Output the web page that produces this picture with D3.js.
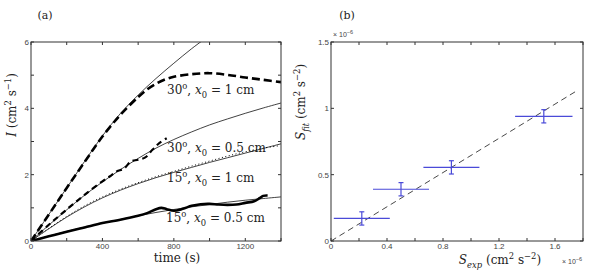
<!DOCTYPE html>
<html>
<head>
<meta charset="utf-8">
<script src="https://cdn.jsdelivr.net/npm/d3@7"></script>
<style>
  body { margin: 0; background: #fff; }
  svg { display: block; }
</style>
</head>
<body>
<div id="chart"></div>
<script>
// ---- panel (a) : I(t) ----
const timeTicks = [0, 400, 800, 1200];
const iTicks = [0, 2, 4, 6];

const fit30x1 = [[0,0],[100,0.8],[200,1.6],[300,2.4],[400,3.17],[500,3.84],[600,4.4],[700,4.9],[800,5.36],[900,5.8],[1000,6.2]];
const data30x1 = [[0,0],[100,0.8],[200,1.6],[300,2.38],[400,3.15],[500,3.8],[600,4.34],[650,4.57],[700,4.74],[750,4.87],[800,4.95],[900,5.03],[1000,5.06],[1100,5.01],[1200,4.93],[1300,4.86],[1400,4.79]];

const fit30x05 = [[0,0],[100,0.48],[200,0.94],[300,1.38],[400,1.78],[500,2.15],[600,2.49],[700,2.8],[800,3.06],[900,3.29],[1000,3.5],[1100,3.68],[1200,3.85],[1300,4.01],[1400,4.16]];
const data30x05 = [[0,0],[100,0.49],[200,0.95],[300,1.39],[400,1.8],[450,1.98],[480,2.1],[520,2.18],[560,2.4],[600,2.45],[640,2.52],[680,2.75],[720,2.96],[760,3.1]];

const fit15x1 = [[0,0],[100,0.37],[200,0.72],[300,1.03],[400,1.3],[500,1.53],[600,1.73],[700,1.91],[800,2.07],[900,2.22],[1000,2.37],[1100,2.51],[1200,2.65],[1300,2.79],[1400,2.93]];
const data15x1 = [[0,0],[100,0.38],[200,0.74],[300,1.06],[400,1.33],[500,1.56],[600,1.76],[700,1.94],[800,2.1],[900,2.26],[1000,2.41],[1100,2.56],[1200,2.69],[1300,2.8],[1390,2.87]];

const fit15x05 = [[0,0],[100,0.15],[200,0.29],[300,0.42],[400,0.54],[500,0.65],[600,0.76],[700,0.86],[800,0.95],[900,1.03],[1000,1.1],[1100,1.17],[1200,1.23],[1300,1.28],[1400,1.33]];
const data15x05 = [[0,0],[100,0.14],[200,0.28],[300,0.41],[400,0.54],[500,0.64],[600,0.76],[650,0.84],[700,0.96],[730,1.0],[760,0.96],[800,0.91],[850,0.97],[900,1.06],[950,1.11],[1000,1.12],[1050,1.1],[1100,1.09],[1150,1.1],[1200,1.15],[1250,1.2],[1280,1.29],[1300,1.36],[1325,1.37]];

// ---- panel (b) : S_fit vs S_exp (x 1e-6) ----
const sExpTicks = [0, 0.4, 0.8, 1.2, 1.6];
const sFitTicks = [0, 0.5, 1, 1.5];
const sExp = [0.22, 0.5, 0.86, 1.52];
const sExpErr = [0.2, 0.2, 0.2, 0.205];
const sFit = [0.17, 0.39, 0.555, 0.94];
const sFitErr = [0.05, 0.05, 0.05, 0.05];
const sLine = [[0, 0], [1.76, 1.135]];

const W = 591, H = 270;
const SERIF = "'DejaVu Serif', 'Liberation Serif', serif";
const SANS = "'Liberation Sans', 'DejaVu Sans', sans-serif";
const svg = d3.select("#chart").append("svg").attr("width", W).attr("height", H);

// rich text helper : segments with italic / sub / sup
function richText(g, x, y, segs, size, opts = {}) {
    const t = g.append("text").attr("x", x).attr("y", y)
        .attr("font-family", SERIF).attr("fill", "#222")
        .attr("font-size", size)
        .attr("text-anchor", opts.anchor || "start");
    if (opts.rotate) t.attr("transform", `rotate(-90,${x},${y})`);
    let shift = 0;
    segs.forEach(s => {
        const target = s.sub ? size * 0.3 : s.sup ? -size * 0.4 : 0;
        const ts = t.append("tspan").text(s.t).attr("dy", target - shift);
        shift = target;
        if (s.it) ts.attr("font-style", "italic");
        if (s.sub || s.sup) ts.attr("font-size", size * 0.7);
    });
    return t;
}

function drawFrame(g, x, y, xMinor, yMinor, xLab, yLab, fmtX, fmtY) {
    const [x0, x1] = x.range(), [y0, y1] = y.range();
    g.append("rect").attr("x", x0).attr("y", y1).attr("width", x1 - x0).attr("height", y0 - y1)
        .attr("fill", "none").attr("stroke", "#333").attr("stroke-width", 1);
    const tk = 3;
    xMinor.forEach(v => {
        const px = x(v);
        g.append("line").attr("x1", px).attr("x2", px).attr("y1", y0).attr("y2", y0 - tk).attr("stroke", "#333");
        g.append("line").attr("x1", px).attr("x2", px).attr("y1", y1).attr("y2", y1 + tk).attr("stroke", "#333");
    });
    yMinor.forEach(v => {
        const py = y(v);
        g.append("line").attr("x1", x0).attr("x2", x0 + tk).attr("y1", py).attr("y2", py).attr("stroke", "#333");
        g.append("line").attr("x1", x1).attr("x2", x1 - tk).attr("y1", py).attr("y2", py).attr("stroke", "#333");
    });
    xLab.forEach(v => {
        g.append("text").attr("font-family", SANS).attr("font-size", 8).attr("fill", "#444")
            .attr("x", x(v)).attr("y", y0 + 8)
            .attr("text-anchor", "middle").text(fmtX(v));
    });
    yLab.forEach(v => {
        g.append("text").attr("font-family", SANS).attr("font-size", 8).attr("fill", "#444")
            .attr("x", x0 - 2).attr("y", y(v) + 3)
            .attr("text-anchor", "end").text(fmtY(v));
    });
}

// ===== panel (a) =====
const ga = svg.append("g");
const xa = d3.scaleLinear().domain([0, 1400]).range([31, 281]);
const ya = d3.scaleLinear().domain([0, 6]).range([241, 42]);

ga.append("clipPath").attr("id", "clipA").append("rect")
    .attr("x", 31).attr("y", 42).attr("width", 250).attr("height", 199);

const lineA = d3.line().x(d => xa(d[0])).y(d => ya(d[1])).curve(d3.curveCatmullRom);
const plotA = ga.append("g").attr("clip-path", "url(#clipA)");

[fit30x1, fit30x05, fit15x1, fit15x05].forEach(s => {
    plotA.append("path").datum(s).attr("d", lineA)
        .attr("fill", "none").attr("stroke", "#111").attr("stroke-width", 0.8);
});
plotA.append("path").datum(data30x1).attr("d", lineA).attr("fill", "none")
    .attr("stroke", "#000").attr("stroke-width", 2.6).attr("stroke-dasharray", "8,4");
plotA.append("path").datum(data30x05).attr("d", lineA).attr("fill", "none")
    .attr("stroke", "#000").attr("stroke-width", 2.2).attr("stroke-dasharray", "6,4");
plotA.append("path").datum(data15x1).attr("d", lineA).attr("fill", "none")
    .attr("stroke", "#000").attr("stroke-width", 1).attr("stroke-dasharray", "1,2.5");
plotA.append("path").datum(data15x05).attr("d", lineA).attr("fill", "none")
    .attr("stroke", "#000").attr("stroke-width", 2.6);

drawFrame(ga, xa, ya, d3.range(0, 1401, 200), d3.range(0, 7, 1), timeTicks, iTicks, d3.format("d"), d3.format("d"));

const deg = (a, x0) => [{t: a}, {t: "o", sup: true}, {t: ", "}, {t: "x", it: true}, {t: "0", sub: true}, {t: " = " + x0 + " cm"}];
richText(ga, 167, 94, deg("30", "1"), 12);
richText(ga, 167, 152, deg("30", "0.5"), 12);
richText(ga, 167, 182, deg("15", "1"), 12);
richText(ga, 166, 222, deg("15", "0.5"), 12);

richText(ga, 177, 262, [{t: "time (s)"}], 12, {anchor: "middle"});
richText(ga, 16, 105, [{t: "I", it: true}, {t: " (cm"}, {t: "2", sup: true}, {t: " s"}, {t: "−1", sup: true}, {t: ")"}], 12, {anchor: "middle", rotate: true});
richText(ga, 45, 19, [{t: "(a)"}], 11, {anchor: "middle"});

// ===== panel (b) =====
const gb = svg.append("g");
const xb = d3.scaleLinear().domain([0, 1.8]).range([331, 583]);
const yb = d3.scaleLinear().domain([0, 1.5]).range([241, 42]);

const lineB = d3.line().x(d => xb(d[0])).y(d => yb(d[1]));
gb.append("path").datum(sLine).attr("d", lineB).attr("fill", "none")
    .attr("stroke", "#333").attr("stroke-width", 0.9).attr("stroke-dasharray", "6,4");

const blue = "#4a4ad8";
const pts = sExp.map((v, i) => ({x: v, xe: sExpErr[i], y: sFit[i], ye: sFitErr[i]}));
const eb = gb.selectAll("g.eb").data(pts).join("g").attr("class", "eb");
eb.append("line").attr("x1", d => xb(d.x - d.xe)).attr("x2", d => xb(d.x + d.xe))
    .attr("y1", d => yb(d.y)).attr("y2", d => yb(d.y)).attr("stroke", blue).attr("stroke-width", 1.2);
eb.append("line").attr("x1", d => xb(d.x)).attr("x2", d => xb(d.x))
    .attr("y1", d => yb(d.y - d.ye)).attr("y2", d => yb(d.y + d.ye)).attr("stroke", blue).attr("stroke-width", 1.2);
[-1, 1].forEach(sg => {
    eb.append("line").attr("x1", d => xb(d.x) - 2.5).attr("x2", d => xb(d.x) + 2.5)
        .attr("y1", d => yb(d.y + sg * d.ye)).attr("y2", d => yb(d.y + sg * d.ye))
        .attr("stroke", blue).attr("stroke-width", 1.2);
});

drawFrame(gb, xb, yb, d3.range(0, 1.81, 0.2), sFitTicks, sExpTicks, sFitTicks,
    v => v === 0 ? "0" : d3.format(".1f")(v), v => v === 0 ? "0" : (v % 1 === 0 ? d3.format("d")(v) : d3.format(".1f")(v)));

const tenExp = (g, x, y) => {
    const t = g.append("text").attr("font-family", SANS).attr("fill", "#444")
        .attr("x", x).attr("y", y).attr("font-size", 7);
    t.append("tspan").text("× 10");
    t.append("tspan").text("−6").attr("dy", -3).attr("font-size", 5.5);
};
tenExp(gb, 333, 37);
tenExp(gb, 562, 264);

richText(gb, 500, 264, [{t: "S", it: true}, {t: "exp", it: true, sub: true}, {t: " (cm"}, {t: "2", sup: true}, {t: " s"}, {t: "−2", sup: true}, {t: ")"}], 12, {anchor: "middle"});
richText(gb, 305, 102, [{t: "S", it: true}, {t: "fit", it: true, sub: true}, {t: " (cm"}, {t: "2", sup: true}, {t: " s"}, {t: "−2", sup: true}, {t: ")"}], 12, {anchor: "middle", rotate: true});
richText(gb, 347, 19, [{t: "(b)"}], 11, {anchor: "middle"});
</script>
</body>
</html>
